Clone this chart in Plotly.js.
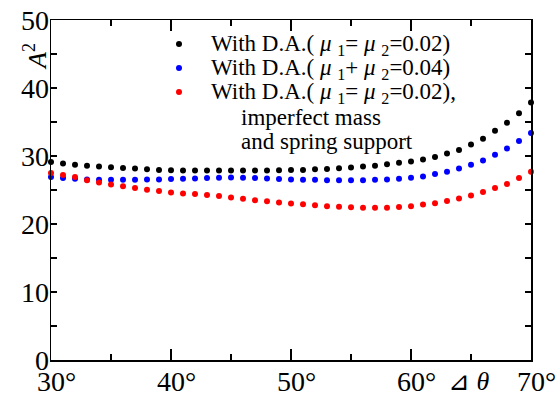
<!DOCTYPE html>
<html>
<head>
<meta charset="utf-8">
<script src="https://cdn.plot.ly/plotly-3.0.1.min.js"></script>
<style>html,body{margin:0;padding:0;background:#fff;}#chart{width:558px;height:398px;}</style>
</head>
<body>
<div id="chart"></div>
<script>
// Angle difference (degrees)
const angles = [30,31,32,33,34,35,36,37,38,39,40,41,42,43,44,45,46,47,48,49,50,51,52,53,54,55,56,57,58,59,60,61,62,63,64,65,66,67,68,69,70];
// With D.A. (mu1 = mu2 = 0.02)
const seriesEqual = [29.1,28.9,28.7,28.55,28.45,28.35,28.25,28.15,28.05,27.95,27.9,27.86,27.85,27.85,27.85,27.85,27.85,27.85,27.85,27.9,27.95,27.95,28.05,28.1,28.2,28.3,28.45,28.55,28.8,29.0,29.2,29.5,29.85,30.35,30.9,31.7,32.55,33.7,34.9,36.3,37.85];
// With D.A. (mu1 + mu2 = 0.04)
const seriesSum = [26.9,26.75,26.65,26.55,26.5,26.5,26.5,26.5,26.55,26.55,26.6,26.65,26.7,26.75,26.8,26.85,26.8,26.75,26.7,26.6,26.55,26.5,26.5,26.45,26.45,26.45,26.45,26.5,26.55,26.65,26.8,27.0,27.35,27.7,28.15,28.7,29.35,30.2,31.1,32.2,33.4];
// With D.A. (mu1 = mu2 = 0.02), imperfect mass and spring support
const seriesImperfect = [27.5,27.2,26.9,26.45,26.1,25.8,25.55,25.3,25.05,24.85,24.65,24.5,24.4,24.25,24.1,23.9,23.7,23.5,23.35,23.15,23.0,22.9,22.75,22.6,22.55,22.45,22.4,22.4,22.4,22.5,22.6,22.85,23.05,23.4,23.75,24.2,24.7,25.3,25.9,26.75,27.7];
const xTickVals = [30,40,50,60,70];
const xTickText = ['30°','40°','50°','60°','70°'];
const yTickVals = [0,10,20,30,40,50];
const yTickText = ['0','10','20','30','40','50'];
const legendLines = [
  'With D.A.( <i>μ</i> <sub>1</sub>= <i>μ</i> <sub>2</sub>=0.02)',
  'With D.A.( <i>μ</i> <sub>1</sub>+ <i>μ</i> <sub>2</sub>=0.04)',
  'With D.A.( <i>μ</i> <sub>1</sub>= <i>μ</i> <sub>2</sub>=0.02),',
  'imperfect mass',
  'and spring support'
];
const colors = ['#000000','#0000ff','#ff0000'];

const FONT = 'Liberation Serif';
const W = 558, H = 398, ML = 51, MR = 27, MT = 20, MB = 38;
const PW = W - ML - MR, PH = H - MT - MB;
const px2x = p => (p - ML) / PW;
const px2y = p => (H - MB - p) / PH;

const seriesList = [seriesEqual, seriesSum, seriesImperfect];
const traces = seriesList.map((s, i) => ({
  x: angles, y: s, type: 'scatter', mode: 'markers', name: legendLines[i],
  marker: {color: colors[i], size: 6}, cliponaxis: false, showlegend: false
}));

const annotations = [];
const shapes = [];
// tick labels placed through the axis scales
xTickVals.forEach((v, i) => annotations.push({text: xTickText[i], xref: 'x', yref: 'paper', x: v, y: px2y(381),
  xanchor: 'center', yanchor: 'middle', xshift: 5, showarrow: false, borderpad: 0,
  font: {family: FONT, size: 28, color: '#000'}}));
yTickVals.forEach((v, i) => annotations.push({text: yTickText[i], xref: 'paper', yref: 'y', x: px2x(49.5), y: v,
  xanchor: 'right', yanchor: 'middle', showarrow: false, borderpad: 0,
  font: {family: FONT, size: 28, color: '#000'}}));

const markerY = [44, 68, 92];
markerY.forEach((py, i) => {
  shapes.push({type: 'circle', xref: 'paper', yref: 'paper', xsizemode: 'pixel', ysizemode: 'pixel',
    xanchor: px2x(179), yanchor: px2y(py), x0: -3, x1: 3, y0: -3, y1: 3,
    fillcolor: colors[i], line: {width: 0}});
});
const textY = [45, 69, 93, 117, 141];
const textX = [210, 210, 210, 240, 240];
legendLines.forEach((t, i) => {
  annotations.push({text: t, xref: 'paper', yref: 'paper', x: px2x(textX[i]), y: px2y(textY[i]),
    xanchor: 'left', yanchor: 'middle', showarrow: false, borderpad: 0,
    font: {family: FONT, size: 23, color: '#000'}});
});
annotations.push({text: '<i>A</i><sup>2</sup>', xref: 'paper', yref: 'paper', x: px2x(36), y: px2y(57),
  xanchor: 'center', yanchor: 'middle', textangle: -90, showarrow: false,
  font: {family: FONT, size: 26, color: '#000'}});
annotations.push({text: '⊿ <i>θ</i>', xref: 'paper', yref: 'paper', x: px2x(469), y: px2y(381),
  xanchor: 'center', yanchor: 'middle', showarrow: false, borderpad: 0,
  font: {family: FONT, size: 26, color: '#000'}});

const layout = {
  width: W, height: H,
  margin: {l: ML, r: MR, t: MT, b: MB, pad: 0},
  paper_bgcolor: '#fff', plot_bgcolor: '#fff',
  showlegend: false,
  font: {family: FONT, size: 26, color: '#000'},
  xaxis: {range: [30, 70], tickvals: xTickVals, ticktext: xTickText, showticklabels: false, ticks: 'inside', ticklen: 11, tickwidth: 1.2,
    tickcolor: '#000', showline: true, linecolor: '#000', linewidth: 1.5, mirror: 'ticks', showgrid: false, zeroline: false,
    minor: {dtick: 5, tick0: 30, ticks: 'inside', ticklen: 6, tickwidth: 1.2, tickcolor: '#000', showgrid: false}},
  yaxis: {range: [0, 50], tickvals: yTickVals, ticktext: yTickText, showticklabels: false, ticks: 'inside', ticklen: 6, tickwidth: 1.2,
    tickcolor: '#000', showline: true, linecolor: '#000', linewidth: 1.5, mirror: 'ticks', showgrid: false, zeroline: false,
    minor: {dtick: 5, tick0: 0, ticks: 'inside', ticklen: 6, tickwidth: 1.2, tickcolor: '#000', showgrid: false}},
  annotations: annotations,
  shapes: shapes
};
Plotly.newPlot('chart', traces, layout, {displayModeBar: false, staticPlot: true});
</script>
</body>
</html>
